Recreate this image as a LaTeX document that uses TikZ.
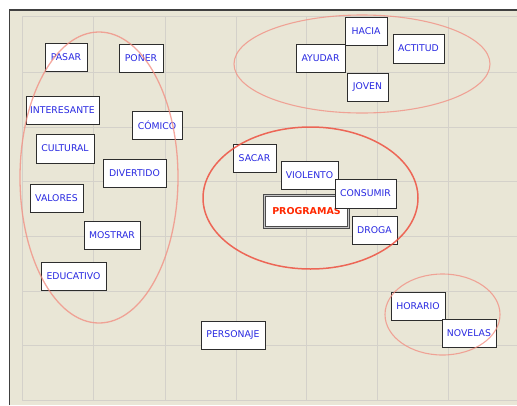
\documentclass[tikz,border=0pt]{standalone}
\usepackage{fontspec}
\setmainfont{DejaVu Sans}
\definecolor{panelbg}{RGB}{233,230,214}
\definecolor{gridc}{RGB}{212,209,202}
\definecolor{txtblue}{RGB}{40,40,225}
\definecolor{txtred}{RGB}{255,40,0}
\definecolor{boxline}{RGB}{45,45,45}
\definecolor{ellA}{RGB}{242,140,128}
\definecolor{ellB}{RGB}{238,80,64}
\tikzset{
  word/.style={draw=boxline, line width=0.9pt, fill=white, text=txtblue,
    font=\fontsize{9.3}{10}\selectfont, inner sep=0pt, minimum height=28pt, anchor=center},
  mainword/.style={draw=gray!60!black, double=gray!45, double distance=1pt, line width=0.8pt,
    fill=white, text=txtred, font=\fontsize{9.5}{10}\selectfont\bfseries, inner sep=0pt,
    minimum width=84pt, minimum height=32pt},
  grp/.style={draw=ellA, line width=1.3pt, draw opacity=0.75},
  grpstrong/.style={draw=ellB, line width=1.5pt, draw opacity=0.85},
}
\begin{document}
\begin{tikzpicture}[x=1pt,y=-1pt]
\useasboundingbox (0,0) rectangle (517,405);
% panel
\fill[panelbg] (9.5,10) rectangle (517,405);
% grid
\foreach \gx in {22,93.5,165,236,306.5,377,448}
  \draw[gridc, line width=1pt] (\gx,16) -- (\gx,400);
\foreach \gy in {16,72,127,181,236,291,345,400}
  \draw[gridc, line width=1pt] (22,\gy) -- (517,\gy);
\draw[black!75, line width=1.2pt] (9.5,405) -- (9.5,10) -- (517,10);
% words
\node[word, minimum width=42pt] (pasar) at (66,57) {PASAR};
\node[word, minimum width=44pt] (poner) at (141,58) {PONER};
\node[word, minimum width=73pt] (interesante) at (62.5,110) {INTERESANTE};
\node[word, minimum width=50pt] (comico) at (157,125) {CÓMICO};
\node[word, minimum width=58pt, minimum height=29pt] (cultural) at (65,148.5) {CULTURAL};
\node[word, minimum width=63pt] (divertido) at (134.5,173) {DIVERTIDO};
\node[word, minimum width=53pt] (valores) at (56.5,198) {VALORES};
\node[word, minimum width=56pt] (mostrar) at (112,235) {MOSTRAR};
\node[word, minimum width=65pt] (educativo) at (73.5,276) {EDUCATIVO};
\node[word, minimum width=64pt] (personaje) at (233,335) {PERSONAJE};
\node[word, minimum width=43pt] (sacar) at (254.5,158) {SACAR};
\node[word, minimum width=57pt] (violento) at (309.5,175) {VIOLENTO};
\node[mainword] (programas) at (306.5,211.5) {PROGRAMAS};
\node[word, minimum width=61pt, minimum height=29pt] (consumir) at (365.5,193.5) {CONSUMIR};
\node[word, minimum width=45pt] (droga) at (374.5,230) {DROGA};
\node[word, minimum width=49pt] (ayudar) at (320.5,58) {AYUDAR};
\node[word, minimum width=42pt] (hacia) at (366,31) {HACIA};
\node[word, minimum width=51pt, minimum height=29pt] (actitud) at (418.5,48.5) {ACTITUD};
\node[word, minimum width=41pt] (joven) at (367.5,87) {JOVEN};
\node[word, minimum width=54pt] (horario) at (418,306) {HORARIO};
\node[word, minimum width=54pt] (novelas) at (469,333) {NOVELAS};
% groups
\draw[grp] (99,177.5) ellipse [x radius=79, y radius=145.5];
\draw[grp, line width=1.1pt] (362,64) ellipse [x radius=128, y radius=49];
\draw[grpstrong] (310.5,198) ellipse [x radius=107.5, y radius=71];
\draw[grp, line width=1.1pt] (442.5,314.5) ellipse [x radius=57.5, y radius=40.5];
\end{tikzpicture}
\end{document}
